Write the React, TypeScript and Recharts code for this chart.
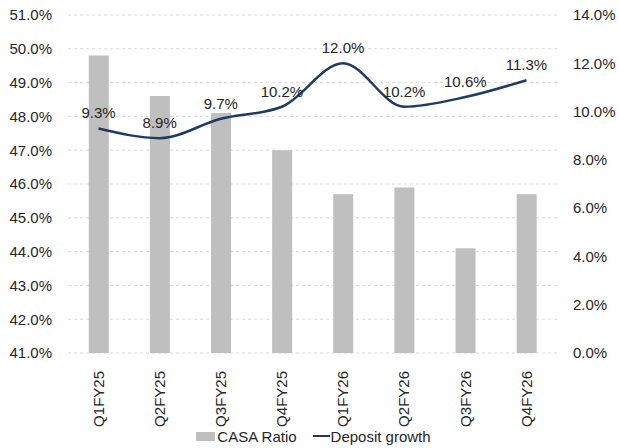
import React from "react";
import {
  ComposedChart,
  Bar,
  Line,
  XAxis,
  YAxis,
  CartesianGrid,
  Legend,
  LabelList,
} from "recharts";

const quarters = ["Q1FY25", "Q2FY25", "Q3FY25", "Q4FY25", "Q1FY26", "Q2FY26", "Q3FY26", "Q4FY26"];
const casaRatio = [49.8, 48.6, 48.1, 47.0, 45.7, 45.9, 44.1, 45.7];
const depositGrowth = [9.3, 8.9, 9.7, 10.2, 12.0, 10.2, 10.6, 11.3];
const leftTicks = [41, 42, 43, 44, 45, 46, 47, 48, 49, 50, 51];
const rightTicks = [0, 2, 4, 6, 8, 10, 12, 14];

const data = quarters.map((q, i) => ({
  q,
  casa: casaRatio[i],
  growth: depositGrowth[i],
}));

const FONT = "'Liberation Sans', Arial, sans-serif";
const TEXT = "#262626";
const BAR = "#BFBFBF";
const LINE = "#1F3B63";

const XTick = (props: any) => {
  const { x, y, payload } = props;
  return (
    <text
      x={x}
      y={y + 10}
      transform={`rotate(-90, ${x}, ${y + 10})`}
      textAnchor="end"
      dy="0.35em"
      fontSize={15}
      fontFamily={FONT}
      fill={TEXT}
    >
      {payload.value}
    </text>
  );
};

const renderLegend = () => (
  <div
    style={{
      display: "flex",
      justifyContent: "center",
      alignItems: "center",
      fontFamily: FONT,
      fontSize: 15,
      color: TEXT,
      height: 20,
      paddingLeft: 8,
    }}
  >
    <span style={{ display: "inline-block", width: 19, height: 9, background: BAR, marginRight: 2 }} />
    <span>CASA Ratio</span>
    <span
      style={{ display: "inline-block", width: 17, height: 2, background: LINE, marginLeft: 16, marginRight: 1 }}
    />
    <span>Deposit growth</span>
  </div>
);

export default function App() {
  return (
    <div style={{ position: "absolute", left: 0, top: 0, background: "#fff" }}>
      <ComposedChart
        width={619}
        height={448}
        data={data}
        margin={{ top: 15, right: 0, bottom: 2, left: 0 }}
        barCategoryGap="34%"
      >
        <CartesianGrid
          yAxisId="left"
          vertical={false}
          stroke="#D9D9D9"
          strokeDasharray="3 3"
        />
        <XAxis
          dataKey="q"
          interval={0}
          height={73}
          tick={<XTick />}
          tickLine={false}
          axisLine={false}
        />
        <YAxis
          yAxisId="left"
          domain={[41, 51]}
          ticks={leftTicks}
          width={68}
          tickSize={0}
          tickMargin={16}
          axisLine={false}
          tickLine={false}
          allowDataOverflow
          tickFormatter={(v: number) => `${v.toFixed(1)}%`}
          tick={{ fontSize: 15, fontFamily: FONT, fill: TEXT }}
        />
        <YAxis
          yAxisId="right"
          orientation="right"
          domain={[0, 14]}
          ticks={rightTicks}
          width={62}
          tickSize={0}
          tickMargin={16}
          axisLine={false}
          tickLine={false}
          tickFormatter={(v: number) => `${v.toFixed(1)}%`}
          tick={{ fontSize: 15, fontFamily: FONT, fill: TEXT, textAnchor: "start" }}
        />
        <Legend verticalAlign="bottom" height={20} content={renderLegend} />
        <Bar
          yAxisId="left"
          dataKey="casa"
          name="CASA Ratio"
          fill={BAR}
          isAnimationActive={false}
        />
        <Line
          yAxisId="right"
          dataKey="growth"
          name="Deposit growth"
          type="monotone"
          stroke={LINE}
          strokeWidth={2.5}
          dot={false}
          activeDot={false}
          isAnimationActive={false}
        >
          <LabelList
            dataKey="growth"
            position="top"
            offset={10}
            formatter={(v: number) => `${v.toFixed(1)}%`}
            style={{ fontSize: 15, fontFamily: FONT, fill: TEXT }}
          />
        </Line>
      </ComposedChart>
    </div>
  );
}
